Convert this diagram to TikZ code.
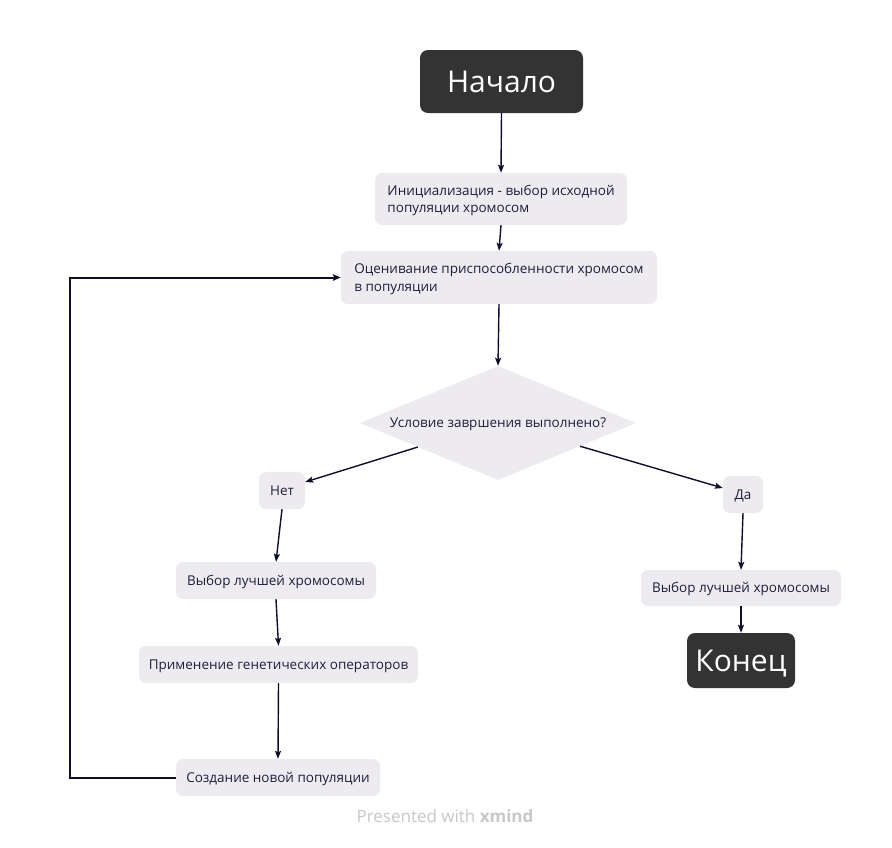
\documentclass[tikz,border=0pt]{standalone}
\usepackage{fontspec}
\setmainfont{Open Sans}
\usetikzlibrary{shapes.geometric,arrows.meta,calc}
\definecolor{boxfill}{HTML}{EDEBEF}
\definecolor{darkbox}{HTML}{333333}
\definecolor{linec}{HTML}{0F0F2D}
\definecolor{txt}{HTML}{1E1E3C}
\definecolor{foot}{HTML}{C8C8C8}
\begin{document}
\begin{tikzpicture}[x=1pt,y=-1pt,
  basebox/.style={fill=boxfill,draw=none,rounded corners=7pt,text=txt,font=\fontsize{13.5}{17.5}\selectfont,inner xsep=0pt,inner ysep=0pt},
  lbox/.style={basebox,minimum height=37pt,text height=9.5pt,text depth=0pt},
  tbox/.style={basebox,align=left,minimum height=52pt,text depth=0pt},
  dbox/.style={fill=darkbox,draw=none,rounded corners=8pt,text=white,font=\fontsize{30}{34}\selectfont,inner sep=0pt,text height=21pt,text depth=0pt},
  cond/.style={diamond,fill=boxfill,draw=none,text=txt,font=\fontsize{13.5}{17.5}\selectfont,inner sep=0pt,shape aspect=2.42,minimum width=276pt,minimum height=114pt,text height=9.5pt,text depth=0pt},
  conn/.style={draw=linec,line width=1.4pt,-{Stealth[length=8pt,width=6pt,inset=1.5pt]}},
  loopc/.style={draw=linec,line width=2pt,-{Stealth[length=8pt,width=6.5pt,inset=1.5pt]}}
]
\useasboundingbox[fill=white] (0,0) rectangle (892,847);

\node[dbox,minimum width=163pt,minimum height=63pt] (start) at (501.5,81.5) {Начало};
\node[tbox,minimum width=252pt] (init) at (501,199) {Инициализация - выбор исходной\\популяции хромосом};
\node[tbox,minimum width=316pt,minimum height=53pt] (ocen) at (499,277.5) {Оценивание приспособленности хромосом\\в популяции};
\node[cond] (cnd) at (498,423) {Условие завршения выполнено?};
\node[lbox,minimum width=46pt] (net) at (282,490.5) {Нет};
\node[lbox,minimum width=40pt] (da) at (743,494.5) {Да};
\node[lbox,minimum width=200pt] (vl) at (276,580.5) {Выбор лучшей хромосомы};
\node[lbox,minimum width=279pt] (prim) at (278.5,664.5) {Применение генетических операторов};
\node[lbox,minimum width=204pt] (sozd) at (278,777.5) {Создание новой популяции};
\node[lbox,minimum width=200pt,minimum height=36pt] (vr) at (741,588) {Выбор лучшей хромосомы};
\node[dbox,minimum width=108pt,minimum height=55pt] (kon) at (741,660.5) {Конец};

\node[text=foot,font=\fontsize{17}{19}\selectfont] (footer) at (445,816) {Presented with \textbf{xmind}};

\coordinate (lp) at (70,777.5);

\draw[conn] (start.south) -- (init.north);
\draw[conn] (init.south) -- (ocen.north);
\draw[conn] (ocen.south) -- (cnd.north);
\draw[conn] ($(cnd.west)!0.42!(cnd.south)$) -- ([yshift=8.5pt]net.east);
\draw[conn] ($(cnd.east)!0.406!(cnd.south)$) -- ([yshift=6.5pt]da.west);
\draw[conn] (net.south) -- (vl.north);
\draw[conn] (vl.south) -- (prim.north);
\draw[conn] (prim.south) -- (sozd.north);
\draw[conn] (da.south) -- (vr.north);
\draw[conn] (vr.south) -- (kon.north);
\draw[loopc] (sozd.west) -- (lp) |- (ocen.west);
\end{tikzpicture}
\end{document}
